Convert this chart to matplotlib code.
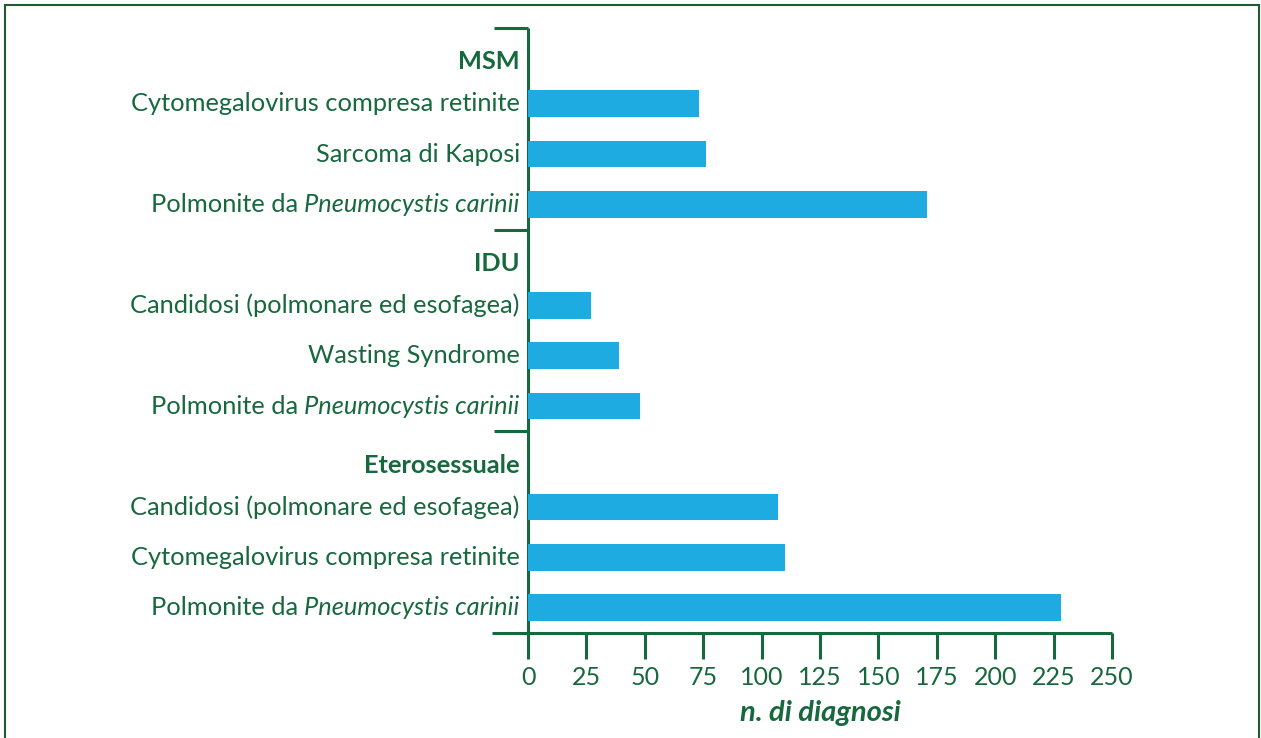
import matplotlib
matplotlib.use("Agg")
import matplotlib.pyplot as plt
from matplotlib.lines import Line2D
from matplotlib.patches import Rectangle

# Data
groups = ["MSM", "IDU", "Eterosessuale"]
group_items = [
    ["Cytomegalovirus compresa retinite", "Sarcoma di Kaposi", "Polmonite da |Pneumocystis carinii"],
    ["Candidosi (polmonare ed esofagea)", "Wasting Syndrome", "Polmonite da |Pneumocystis carinii"],
    ["Candidosi (polmonare ed esofagea)", "Cytomegalovirus compresa retinite", "Polmonite da |Pneumocystis carinii"],
]
group_values = [
    [73, 76, 171],
    [27, 39, 48],
    [107, 110, 228],
]
x_ticks = [0, 25, 50, 75, 100, 125, 150, 175, 200, 225, 250]
x_label = "n. di diagnosi"

GREEN = "#17693d"
BLUE = "#1eabe2"
FONT = "Lato"
FS = 18.3

W, H = 1261, 738
fig = plt.figure(figsize=(W / 100, H / 100), dpi=100)
ax = fig.add_axes([528 / W, 1 - 633 / H, (1112 - 528) / W, (633 - 28) / H])

n_slots = sum(len(items) + 1 for items in group_items)
ax.set_ylim(n_slots - 0.5, -0.5)
ax.set_xlim(0, 250)

for s in ax.spines.values():
    s.set_visible(False)
ax.set_yticks([])
ax.set_xticks(x_ticks)
ax.tick_params(axis="x", direction="out", length=19, width=2.2, color=GREEN,
               labelcolor=GREEN, labelsize=18, pad=5)
for lab in ax.get_xticklabels():
    lab.set_family(FONT)

# axis lines
ax.add_line(Line2D([0, 0], [-0.5, n_slots - 0.5], color=GREEN, lw=2.2,
                   clip_on=False, solid_capstyle="butt"))
ax.add_line(Line2D([-15.5, 250], [n_slots - 0.5, n_slots - 0.5], color=GREEN,
                   lw=2.2, clip_on=False, solid_capstyle="butt"))

label_x = -3.5
slot = 0
for g, items, vals in zip(groups, group_items, group_values):
    # group separator tick
    ax.add_line(Line2D([-14.5, 0], [slot - 0.5, slot - 0.5], color=GREEN, lw=2.2,
                       clip_on=False, solid_capstyle="butt"))
    ax.text(label_x, slot + 0.17, g, ha="right", va="center", color=GREEN,
            fontsize=FS, fontweight="bold", family=FONT)
    slot += 1
    for item, v in zip(items, vals):
        ax.barh(slot, v, height=0.53, color=BLUE, zorder=2)
        if "|" in item:
            normal, ital = item.split("|")
            t_it = ax.text(label_x, slot, ital, ha="right", va="center",
                           color=GREEN, fontsize=FS, style="italic", family=FONT)
            ax.annotate(normal, xy=(0, 0.5), xycoords=t_it, ha="right",
                        va="center", color=GREEN, fontsize=FS, family=FONT)
        else:
            ax.text(label_x, slot, item, ha="right", va="center", color=GREEN,
                    fontsize=FS, family=FONT)
        slot += 1

ax.set_xlabel(x_label, color=GREEN, fontsize=21, fontweight="bold",
              style="italic", family=FONT, labelpad=8)

# outer frame
fig.add_artist(Rectangle((4.5 / W, -0.05), (1259 - 4.5) / W, 1.05 - 5.5 / H,
                         transform=fig.transFigure, fill=False, ec="#1f5a33",
                         lw=1.5, clip_on=False))

fig.savefig("out.png", dpi=100)
